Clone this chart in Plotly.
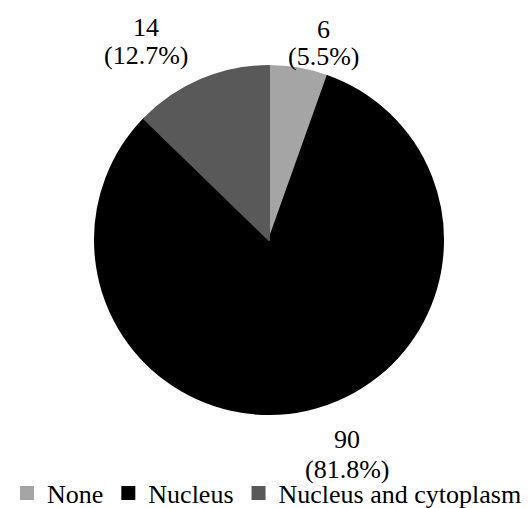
import plotly.graph_objects as go

categories = ["None", "Nucleus", "Nucleus and cytoplasm"]
counts = [6, 90, 14]
colors = ["#A5A5A5", "#000000", "#595959"]

# data-label anchor positions (paper coordinates): value line and percent line
label_x = [0.609, 0.652, 0.2744]
value_y = [1 - 29 / 508, 1 - 439 / 508, 1 - 27 / 508]
pct_y = [1 - 56 / 508, 1 - 469 / 508, 1 - 55 / 508]

total = sum(counts)
FONT = "Times New Roman, Liberation Serif, serif"

fig = go.Figure(
    go.Pie(
        labels=categories,
        values=counts,
        marker=dict(colors=colors, line=dict(width=2, color=colors)),
        sort=False,
        direction="clockwise",
        rotation=0,
        textinfo="none",
        hoverinfo="label+value+percent",
        domain=dict(x=[95 / 532, 443 / 532], y=[1 - 414 / 508, 1 - 66 / 508]),
    )
)

for v, x, y1, y2 in zip(counts, label_x, value_y, pct_y):
    fig.add_annotation(
        x=x, y=y1, xref="paper", yref="paper",
        text=f"{v}",
        showarrow=False, xanchor="center", yanchor="middle",
        font=dict(family=FONT, size=26, color="#000000"),
    )
    fig.add_annotation(
        x=x, y=y2, xref="paper", yref="paper",
        text=f"({v / total * 100:.1f}%)",
        showarrow=False, xanchor="center", yanchor="middle",
        font=dict(family=FONT, size=26, color="#000000"),
    )

fig.update_layout(
    width=532, height=508,
    margin=dict(l=0, r=0, t=0, b=0, autoexpand=False),
    paper_bgcolor="#FFFFFF",
    plot_bgcolor="#FFFFFF",
    font=dict(family=FONT, size=26, color="#000000"),
    showlegend=True,
    legend=dict(
        orientation="h", x=7 / 532, y=1 - 493 / 508, xanchor="left", yanchor="middle",
        font=dict(family=FONT, size=26, color="#000000"),
        itemwidth=30, tracegroupgap=0,
        bgcolor="rgba(0,0,0,0)",
    ),
)

fig.write_html(
    "out.html",
    config={"displayModeBar": False},
    post_script="document.body.style.margin='0';document.body.style.overflow='hidden';",
)
